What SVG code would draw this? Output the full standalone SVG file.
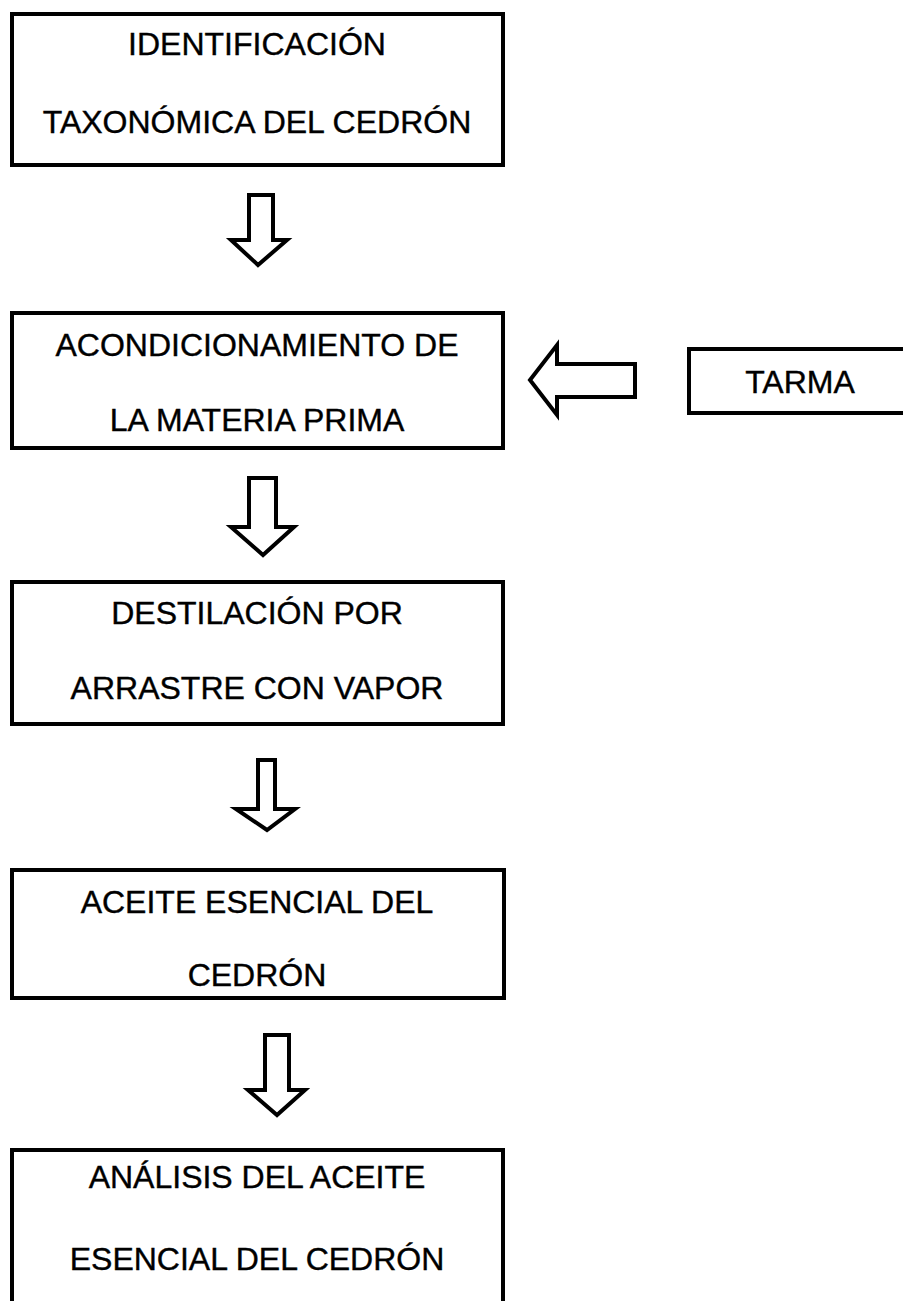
<svg xmlns="http://www.w3.org/2000/svg" width="903" height="1301" viewBox="0 0 903 1301">
<style>
.box{fill:#fff;stroke:#000;stroke-width:4}
.arr{fill:#fff;stroke:#000;stroke-width:4;stroke-linejoin:miter}
.t{font-family:"Liberation Sans",Arial,sans-serif;font-size:32px;fill:#000;stroke:#000;stroke-width:0.4;text-anchor:middle}
</style>
<rect width="903" height="1301" fill="#fff"/>
<g id="connectors">
<path class="arr" d="M249,195 H273 V240 H287 L258,265 L231,240 H249 Z"/>
<path class="arr" d="M249,478 H276 V527 H294 L263,555 L231,527 H249 Z"/>
<path class="arr" d="M258,760 H275 V809 H295 L267,830 L236,809 H258 Z"/>
<path class="arr" d="M265,1035 H289 V1090 H305 L277,1115 L248,1090 H265 Z"/>
<path class="arr" d="M635,364 V397 H557 V415 L530,380 L557,345 V364 Z"/>
</g>
<g id="n1">
<rect class="box" x="12" y="14" width="491" height="151"/>
<text class="t" x="257" y="55">IDENTIFICACIÓN</text>
<text class="t" x="257" y="133">TAXONÓMICA DEL CEDRÓN</text>
</g>
<g id="n2">
<rect class="box" x="12" y="313" width="491" height="135"/>
<text class="t" x="257" y="356">ACONDICIONAMIENTO DE</text>
<text class="t" x="257" y="431">LA MATERIA PRIMA</text>
</g>
<g id="tarma">
<rect class="box" x="689" y="349" width="230" height="64"/>
<text class="t" x="800" y="393">TARMA</text>
</g>
<g id="n3">
<rect class="box" x="12" y="582" width="491" height="142"/>
<text class="t" x="257" y="624">DESTILACIÓN POR</text>
<text class="t" x="257" y="699">ARRASTRE CON VAPOR</text>
</g>
<g id="n4">
<rect class="box" x="12" y="870" width="492" height="128"/>
<text class="t" x="257" y="913">ACEITE ESENCIAL DEL</text>
<text class="t" x="257" y="986">CEDRÓN</text>
</g>
<g id="n5">
<rect class="box" x="12" y="1150" width="491" height="170"/>
<text class="t" x="257" y="1188">ANÁLISIS DEL ACEITE</text>
<text class="t" x="257" y="1270">ESENCIAL DEL CEDRÓN</text>
</g>
</svg>
